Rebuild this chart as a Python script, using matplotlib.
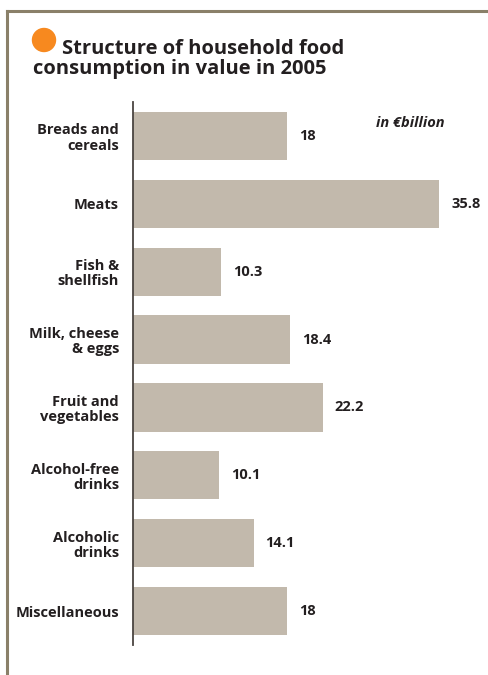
import matplotlib.pyplot as plt
from matplotlib.patches import Ellipse
from matplotlib.lines import Line2D

# Data
categories = ['Breads and\ncereals', 'Meats', 'Fish &\nshellfish', 'Milk, cheese\n& eggs',
              'Fruit and\nvegetables', 'Alcohol-free\ndrinks', 'Alcoholic\ndrinks', 'Miscellaneous']
values = [18, 35.8, 10.3, 18.4, 22.2, 10.1, 14.1, 18]
value_labels = ['18', '35.8', '10.3', '18.4', '22.2', '10.1', '14.1', '18']

plt.rcParams['font.family'] = ['Open Sans', 'DejaVu Sans']

W, H = 489, 675
fig = plt.figure(figsize=(W / 100, H / 100), dpi=100)

# frame lines (top and left)
frame_color = '#8a8069'
fig.add_artist(Line2D([7 / W, 1], [1 - 11 / H, 1 - 11 / H], color=frame_color, lw=2.2,
                      transform=fig.transFigure))
fig.add_artist(Line2D([7 / W, 7 / W], [0, 1 - 11 / H], color=frame_color, lw=2.2,
                      transform=fig.transFigure))

# orange bullet + title
fig.add_artist(Ellipse((44 / W, 1 - 40 / H), 23 / W, 23 / H, color='#f7891f',
                       transform=fig.transFigure))
fig.text(62 / W, 1 - 54 / H, 'Structure of household food', fontsize=14.5, fontweight='bold',
         color='#231f20', ha='left', va='baseline')
fig.text(33 / W, 1 - 74 / H, 'consumption in value in 2005', fontsize=14.5, fontweight='bold',
         color='#231f20', ha='left', va='baseline')

# bar chart axes
left, right = 133, 489
top, bottom = 102, 645
ax = fig.add_axes([left / W, 1 - bottom / H, (right - left) / W, (bottom - top) / H])
ypos = list(range(len(categories)))
ax.barh(ypos, values, height=0.71, color='#c2b9ac', edgecolor='none')
ax.set_xlim(0, (right - left) / 8.55)
ax.set_ylim(len(categories) - 0.5, -0.5)

for y, v, lab in zip(ypos, values, value_labels):
    ax.text(v + 1.4, y, lab, fontsize=10.5, fontweight='bold', color='#231f20',
            ha='left', va='center')

ax.set_yticks(ypos)
ax.set_yticklabels(categories, fontsize=10.5, fontweight='bold', color='#231f20',
                   linespacing=1.1)
ax.tick_params(axis='y', length=0, pad=10)
ax.set_xticks([])
for s in ['top', 'right', 'bottom']:
    ax.spines[s].set_visible(False)
ax.spines['left'].set_color('#4a4441')
ax.spines['left'].set_linewidth(1.3)

ax.text(0.78, 0.961, 'in €billion', transform=ax.transAxes, fontsize=10.5, fontweight='bold',
        style='italic', color='#231f20', ha='center', va='center')

fig.savefig('out.png', dpi=100)
